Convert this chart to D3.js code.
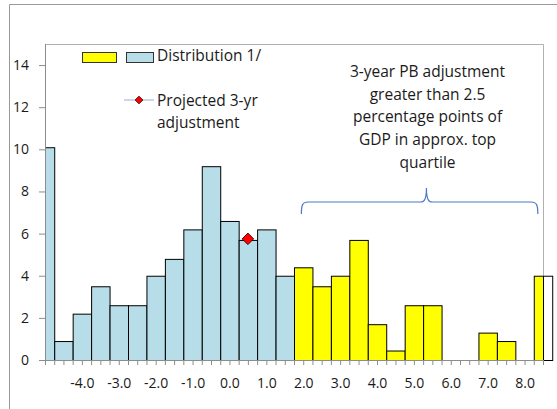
<!DOCTYPE html>
<html><head><meta charset="utf-8">
<script src="https://cdn.jsdelivr.net/npm/d3@7"></script>
<style>
html,body{margin:0;padding:0;background:#fff;}
svg{display:block;font-family:"Open Sans",sans-serif;}
</style></head>
<body><svg id="chart" width="557" height="409"></svg>
<script>
// ---- data ----
const blueBins   = [-5.0,-4.5,-4.0,-3.5,-3.0,-2.5,-2.0,-1.5,-1.0,-0.5,0.0,0.5,1.0,1.5];
const blueValues = [10.1,0.9,2.2,3.5,2.6,2.6,4.0,4.8,6.2,9.2,6.6,5.7,6.2,4.0];
const yellowBins   = [2.0,2.5,3.0,3.5,4.0,4.5,5.0,5.5,6.0,6.5,7.0,7.5,8.0,8.5];
const yellowValues = [4.4,3.5,4.0,5.7,1.7,0.45,2.6,2.6,0,0,1.3,0.9,0,4.0];
const projectedX = [0.5];
const projectedY = [5.75];
const xTickValues = [-4,-3,-2,-1,0,1,2,3,4,5,6,7,8];
const yTickValues = [0,2,4,6,8,10,12,14];
const annotationLines = ["3-year PB adjustment","greater than 2.5","percentage points of","GDP in approx. top","quartile"];
const legendLabels = ["Distribution 1/","Projected 3-yr","adjustment"];

// ---- layout ----
const svg = d3.select("#chart");
const L = 45, R = 543, T = 44, B = 360;
const binW = 0.5;
const x = d3.scaleLinear().domain([-5, 8.5]).range([L, R]);
const y = d3.scaleLinear().domain([0, 15]).range([B, T]);
const gridCol = "#8c8c8c";
const fmtX = v => d3.format(".1f")(v).replace("\u2212", "-");

// outer chart border
svg.append("path").attr("d", `M9.5,409 L9.5,4.5 L557,4.5`)
  .attr("fill","none").attr("stroke","#9a9a9a").attr("stroke-width",1);

// plot area border (top/right)
svg.append("path").attr("d", `M${L},${T+0.5} L${R+0.5},${T+0.5} L${R+0.5},${B}`)
  .attr("fill","none").attr("stroke","#b0b0b0").attr("stroke-width",1);

svg.append("clipPath").attr("id","plotclip").append("rect")
  .attr("x", L).attr("y", 0).attr("width", R - L).attr("height", B + 1);

const bars = [];
blueBins.forEach((c,i)=>bars.push({c, v: blueValues[i], fill:"#b7dde8"}));
yellowBins.forEach((c,i)=>bars.push({c, v: yellowValues[i], fill:"#ffff00"}));
const drawn = bars.filter(d => d.v > 0);

// overflow part beyond right edge (rendered white)
svg.append("g").selectAll("rect").data(drawn.filter(d => x(d.c + binW/2) > R)).join("rect")
  .attr("x", R + 0.5).attr("y", d => y(d.v) + 0.5)
  .attr("width", d => x(d.c + binW/2) - R)
  .attr("height", d => B - y(d.v))
  .attr("fill", "#fff").attr("stroke", "#000").attr("stroke-width", 1);

svg.append("g").attr("clip-path","url(#plotclip)")
  .selectAll("rect").data(drawn).join("rect")
  .attr("x", d => x(d.c - binW/2) + 0.5)
  .attr("y", d => y(d.v) + 0.5)
  .attr("width", d => x(d.c + binW/2) - x(d.c - binW/2))
  .attr("height", d => B - y(d.v))
  .attr("fill", d => d.fill).attr("stroke", "#000").attr("stroke-width", 1);

// y axis
const yAxis = svg.append("g").attr("transform", `translate(${L},0)`)
  .call(d3.axisLeft(y).tickValues(yTickValues).tickSize(6).tickPadding(10).tickFormat(d3.format("d")));
yAxis.select(".domain").attr("stroke", gridCol).attr("d", `M0.5,${T} L0.5,${B}`);
yAxis.selectAll(".tick line").attr("stroke", gridCol);
yAxis.selectAll("text").attr("font-size", 14).attr("fill","#1a1a1a").attr("font-family","Open Sans");

// x axis
const xAxis = svg.append("g").attr("transform", `translate(0,${B})`)
  .call(d3.axisBottom(x).tickValues(d3.range(-5, 8.5001, 0.25)).tickSize(5).tickFormat(""));
xAxis.select(".domain").attr("stroke", gridCol).attr("d", `M${L},0.5 L${R},0.5`);
xAxis.selectAll(".tick line").attr("stroke", gridCol);
const xLab = svg.append("g").attr("transform", `translate(0,${B})`)
  .call(d3.axisBottom(x).tickValues(xTickValues).tickSize(0).tickPadding(18).tickFormat(fmtX));
xLab.select(".domain").remove();
xLab.selectAll("text").attr("font-size", 14).attr("fill","#1a1a1a").attr("font-family","Open Sans");

// projected marker
const diamond = d3.symbol().type(d3.symbolSquare).size(66);
svg.append("g").selectAll("path").data(projectedX.map((px,i)=>({px, py: projectedY[i]}))).join("path")
  .attr("d", diamond)
  .attr("transform", d => `translate(${x(d.px)},${y(d.py)}) rotate(45)`)
  .attr("fill", "#ff0000").attr("stroke", "#400000").attr("stroke-width", 0.9);

// brace annotation (in data space)
const bx0 = x(1.95), bx1 = x(8.36), bxm = x(5.34);
const byEnd = y(6.93), byLine = y(7.5), byTip = y(8.16);
const brace = `M${bx0},${byEnd} C${bx0},${byLine+3} ${bx0+1},${byLine} ${bx0+7},${byLine}
 L${bxm-6},${byLine} C${bxm-2},${byLine} ${bxm},${byLine-3} ${bxm},${byTip}
 C${bxm},${byLine-3} ${bxm+2},${byLine} ${bxm+6},${byLine}
 L${bx1-7},${byLine} C${bx1-1},${byLine} ${bx1},${byLine+3} ${bx1},${byEnd}`;
svg.append("path").attr("d", brace).attr("fill","none").attr("stroke","#4a7bc4").attr("stroke-width",1.2);

const ann = svg.append("text").attr("text-anchor","middle").attr("font-size", 15.5).attr("fill","#1a1a1a");
annotationLines.forEach((t,i)=>{
  ann.append("tspan").attr("x", x(5.37)).attr("y", 77 + i*22.7).text(t);
});

// legend
const lg = svg.append("g");
lg.append("rect").attr("x",82.5).attr("y",52.5).attr("width",34).attr("height",10)
  .attr("fill","#ffff00").attr("stroke","#333");
lg.append("rect").attr("x",126.5).attr("y",52.5).attr("width",27).attr("height",10)
  .attr("fill","#b7dde8").attr("stroke","#333");
lg.append("text").attr("x",157).attr("y",61).attr("font-size",15.5).attr("fill","#1a1a1a").text(legendLabels[0]);
lg.append("line").attr("x1",124).attr("x2",154).attr("y1",100).attr("y2",100)
  .attr("stroke","#c9d7ec").attr("stroke-width",2);
lg.append("path").attr("d", d3.symbol().type(d3.symbolSquare).size(30)).attr("transform","translate(139,100) rotate(45)")
  .attr("fill","#ff0000").attr("stroke","#400000").attr("stroke-width",0.8);
lg.append("text").attr("x",157).attr("y",106).attr("font-size",15.5).attr("fill","#1a1a1a").text(legendLabels[1]);
lg.append("text").attr("x",157).attr("y",128).attr("font-size",15.5).attr("fill","#1a1a1a").text(legendLabels[2]);
</script>
</body></html>
